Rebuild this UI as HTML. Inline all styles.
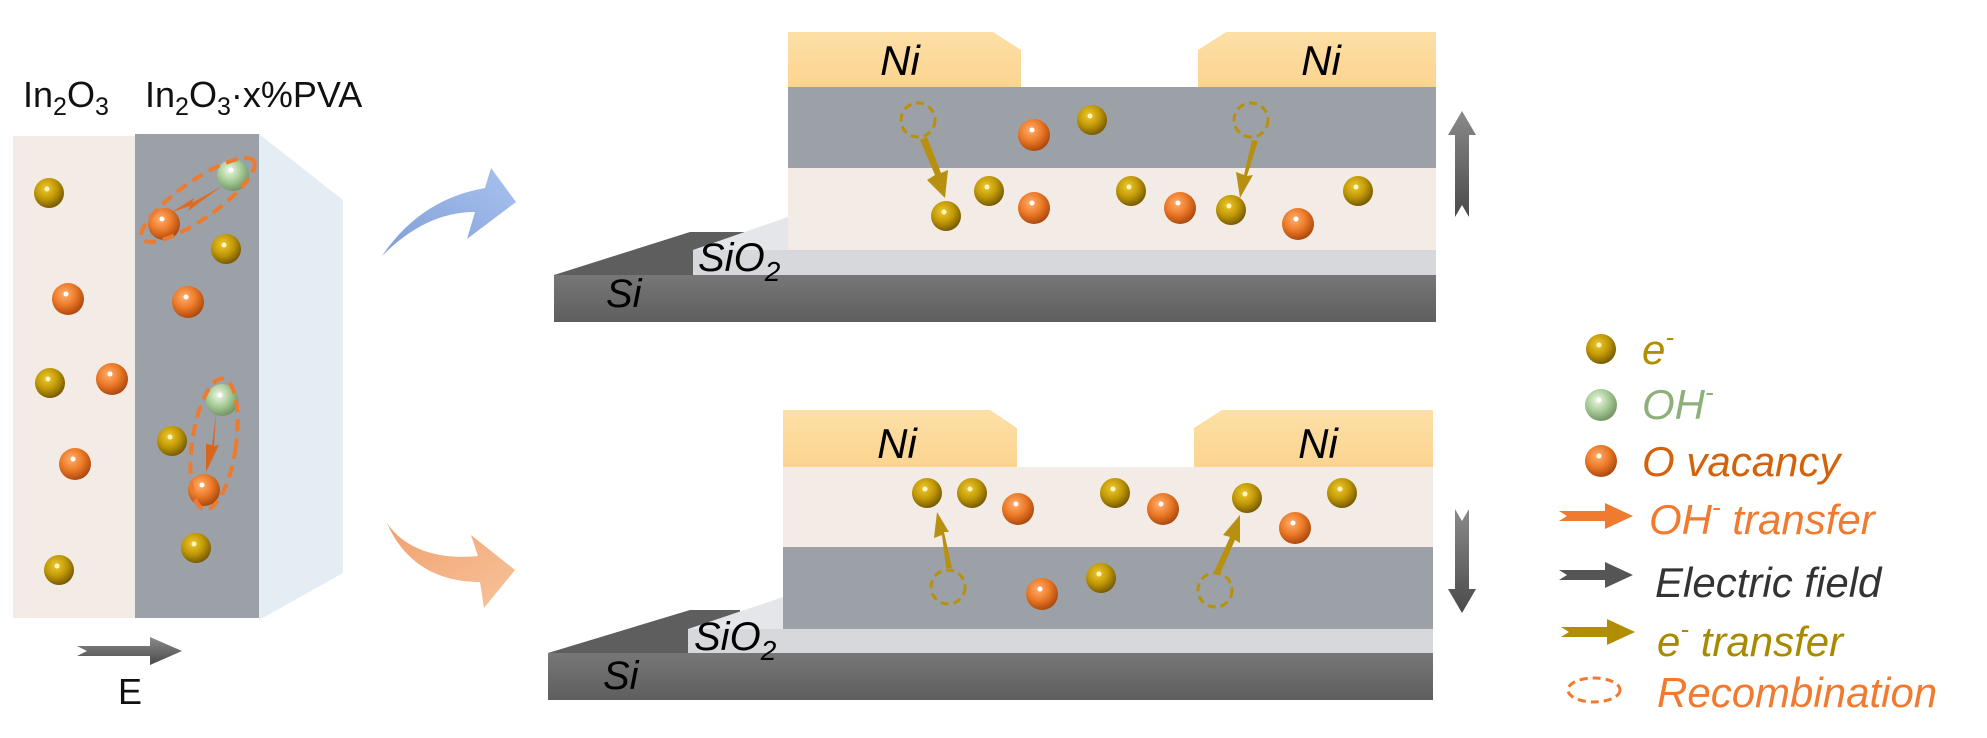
<!DOCTYPE html>
<html><head><meta charset="utf-8"><style>
html,body{margin:0;padding:0;background:#fff;}
svg{display:block;}
text{font-family:"Liberation Sans",Arial,sans-serif;}
</style></head><body>
<svg width="1987" height="738" viewBox="0 0 1987 738" xmlns="http://www.w3.org/2000/svg">
<defs>
<radialGradient id="ge" cx="0.4" cy="0.35" r="0.7"><stop offset="0" stop-color="#f0c832"/><stop offset="0.5" stop-color="#c29a06"/><stop offset="1" stop-color="#6e5200"/></radialGradient>
<radialGradient id="go" cx="0.4" cy="0.35" r="0.7"><stop offset="0" stop-color="#ffb070"/><stop offset="0.5" stop-color="#ec7a28"/><stop offset="1" stop-color="#a4420a"/></radialGradient>
<radialGradient id="gg" cx="0.4" cy="0.35" r="0.7"><stop offset="0" stop-color="#eef8e6"/><stop offset="0.5" stop-color="#a8cc98"/><stop offset="1" stop-color="#6c8e5e"/></radialGradient>
<linearGradient id="gni" x1="0" y1="0" x2="0" y2="1"><stop offset="0" stop-color="#fddfa6"/><stop offset="1" stop-color="#fbd490"/></linearGradient>
<linearGradient id="gsi" x1="0" y1="0" x2="0" y2="1"><stop offset="0" stop-color="#777"/><stop offset="1" stop-color="#5e5e5e"/></linearGradient>
<linearGradient id="gblue" x1="0" y1="1" x2="1" y2="0"><stop offset="0" stop-color="#7f9ed8"/><stop offset="1" stop-color="#a9c2ee"/></linearGradient>
<linearGradient id="gor" x1="0" y1="0" x2="1" y2="1"><stop offset="0" stop-color="#f0a070"/><stop offset="1" stop-color="#f7c49a"/></linearGradient>
<linearGradient id="garr" x1="0" y1="0" x2="0" y2="1"><stop offset="0" stop-color="#8a8a8a"/><stop offset="1" stop-color="#4a4a4a"/></linearGradient>
<g id="e"><circle r="15" fill="url(#ge)"/><circle cx="-2" cy="-4" r="2.5" fill="#fff8c0"/></g>
<g id="o"><circle r="16" fill="url(#go)"/><circle cx="-2" cy="-5" r="2.5" fill="#fff"/></g>
<g id="g"><circle r="16" fill="url(#gg)"/><circle cx="-2" cy="-5" r="2.5" fill="#fff"/></g>
</defs>

<!-- Left block -->
<text x="23" y="107" font-size="36" fill="#111">In<tspan font-size="25" dy="8">2</tspan><tspan dy="-8">O</tspan><tspan font-size="25" dy="8">3</tspan></text>
<text x="145" y="107" font-size="36" fill="#111">In<tspan font-size="25" dy="8">2</tspan><tspan dy="-8">O</tspan><tspan font-size="25" dy="8">3</tspan><tspan dy="-8">·x%PVA</tspan></text>
<rect x="13" y="136" width="122" height="482" fill="#f3ebe5"/>
<rect x="135" y="134" width="124" height="484" fill="#9ba1a6"/>
<polygon points="259,134 343,200 343,573 259,620" fill="#e4edf3"/>
<use href="#e" x="49" y="193"/><use href="#o" x="68" y="299"/><use href="#e" x="50" y="383"/><use href="#o" x="112" y="379"/><use href="#o" x="75" y="464"/><use href="#e" x="59" y="570"/>
<use href="#g" x="233" y="175"/><use href="#o" x="164" y="224"/><use href="#e" x="226" y="249"/><use href="#o" x="188" y="302"/><use href="#g" x="222" y="400"/><use href="#e" x="172" y="441"/><use href="#o" x="204" y="490"/><use href="#e" x="196" y="548"/>
<ellipse cx="198" cy="200" rx="68" ry="19" transform="rotate(-35 198 200)" fill="none" stroke="#ee7a30" stroke-width="4" stroke-dasharray="12 7"/>
<ellipse cx="214" cy="444" rx="22" ry="66" transform="rotate(8 214 444)" fill="none" stroke="#ee7a30" stroke-width="4" stroke-dasharray="12 7"/>
<polygon points="222,186 192,203 194,198 172,212 190,206 188,211" fill="#e06a20"/>
<polygon points="216,414 212,445 206,444 206,472 219,445 214,446" fill="#d8661c"/>
<polygon points="77,646 150,646 150,637 182,651 150,665 150,656 77,656 87,651" fill="url(#garr)"/>
<text x="130" y="704" font-size="36" fill="#111" text-anchor="middle">E</text>

<!-- Curved arrows -->
<path d="M382,256 C410,215 445,195 485,188 L491,168 L516,202 L467,239 L475,212 C440,212 410,228 382,256 Z" fill="url(#gblue)"/>
<path d="M387,523 C405,550 440,560 478,556 L471,535 L515,570 L484,608 L480,582 C440,582 405,565 387,523 Z" fill="url(#gor)"/>

<!-- Top device -->
<polygon points="554,275 690,232 745,232 745,275" fill="#5e5e5e"/>
<rect x="554" y="275" width="882" height="47" fill="url(#gsi)"/>
<polygon points="693,250 788,217 788,275 693,275" fill="#e4e6ea"/>
<rect x="693" y="250" width="743" height="25" fill="#d6d8dc"/>
<rect x="788" y="168" width="648" height="82" fill="#f3ece6"/>
<rect x="788" y="87" width="648" height="81" fill="#9ba1a6"/>
<polygon points="788,32 993,32 1021,50 1021,87 788,87" fill="url(#gni)"/>
<polygon points="1198,87 1198,50 1226,32 1436,32 1436,87" fill="url(#gni)"/>
<text x="900" y="75" font-size="42" font-style="italic" fill="#000" text-anchor="middle">Ni</text>
<text x="1321" y="75" font-size="42" font-style="italic" fill="#000" text-anchor="middle">Ni</text>
<text x="698" y="271" font-size="40" font-style="italic" fill="#000">SiO<tspan font-size="28" dy="10">2</tspan></text>
<text x="606" y="307" font-size="40" font-style="italic" fill="#000">Si</text>
<circle cx="918" cy="120" r="17" fill="none" stroke="#b8900a" stroke-width="3" stroke-dasharray="8 5"/>
<circle cx="1251" cy="120" r="17" fill="none" stroke="#b8900a" stroke-width="3" stroke-dasharray="8 5"/>
<use href="#o" x="1034" y="135"/><use href="#e" x="1092" y="120"/>
<use href="#e" x="946" y="216"/><use href="#e" x="989" y="191"/><use href="#o" x="1034" y="208"/><use href="#e" x="1131" y="191"/><use href="#o" x="1180" y="208"/><use href="#e" x="1231" y="210"/><use href="#o" x="1298" y="224"/><use href="#e" x="1358" y="191"/>
<polygon points="920,140 935,175 927,180 945,198 948,170 941,173 927,137" fill="#b89010"/>
<polygon points="1252,140 1244,175 1236,172 1240,198 1253,175 1247,176 1258,141" fill="#b89010"/>
<polygon points="1462,111 1476,135 1469,135 1469,217 1462,205 1455,217 1455,135 1448,135" fill="url(#garr)"/>

<!-- Bottom device -->
<polygon points="548,653 690,610 740,610 740,653" fill="#5e5e5e"/>
<rect x="548" y="653" width="885" height="47" fill="url(#gsi)"/>
<polygon points="688,629 783,597 783,653 688,653" fill="#e4e6ea"/>
<rect x="688" y="629" width="745" height="24" fill="#d6d8dc"/>
<rect x="783" y="547" width="650" height="82" fill="#9ba1a6"/>
<rect x="783" y="467" width="650" height="80" fill="#f3ece6"/>
<polygon points="783,410 990,410 1017,428 1017,467 783,467" fill="url(#gni)"/>
<polygon points="1194,467 1194,428 1222,410 1433,410 1433,467" fill="url(#gni)"/>
<text x="897" y="458" font-size="42" font-style="italic" fill="#000" text-anchor="middle">Ni</text>
<text x="1318" y="458" font-size="42" font-style="italic" fill="#000" text-anchor="middle">Ni</text>
<text x="694" y="650" font-size="40" font-style="italic" fill="#000">SiO<tspan font-size="28" dy="10">2</tspan></text>
<text x="603" y="689" font-size="40" font-style="italic" fill="#000">Si</text>
<use href="#e" x="927" y="493"/><use href="#e" x="972" y="493"/><use href="#o" x="1018" y="509"/><use href="#e" x="1115" y="493"/><use href="#o" x="1163" y="509"/><use href="#e" x="1247" y="498"/><use href="#o" x="1295" y="528"/><use href="#e" x="1342" y="493"/>
<circle cx="948" cy="587" r="17" fill="none" stroke="#b8900a" stroke-width="3" stroke-dasharray="8 5"/>
<circle cx="1215" cy="590" r="17" fill="none" stroke="#b8900a" stroke-width="3" stroke-dasharray="8 5"/>
<use href="#o" x="1042" y="594"/><use href="#e" x="1101" y="578"/>
<polygon points="946,568 942,535 934,538 937,512 949,532 944,532 952,568" fill="#b89010"/>
<polygon points="1214,572 1230,537 1223,535 1240,515 1240,543 1235,540 1220,574" fill="#b89010"/>
<polygon points="1455,509 1462,521 1469,509 1469,589 1476,589 1462,613 1448,589 1455,589" fill="url(#garr)"/>

<!-- Legend -->
<use href="#e" x="1601" y="349"/>
<text x="1642" y="364" font-size="42" font-style="italic" fill="#b08e00">e<tspan font-size="26" dy="-18">-</tspan></text>
<use href="#g" x="1601" y="405"/>
<text x="1642" y="419" font-size="42" font-style="italic" fill="#8db07a">OH<tspan font-size="26" dy="-18">-</tspan></text>
<use href="#o" x="1601" y="461"/>
<text x="1642" y="476" font-size="42" font-style="italic" fill="#d4620a">O vacancy</text>
<polygon points="1559,511 1605,511 1605,503 1633,516 1605,529 1605,521 1559,521 1567,516" fill="#f07b30"/>
<text x="1649" y="534" font-size="42" font-style="italic" fill="#f07b30">OH<tspan font-size="26" dy="-18">-</tspan><tspan dy="18"> transfer</tspan></text>
<polygon points="1559,570 1605,570 1605,562 1633,575 1605,588 1605,580 1559,580 1567,575" fill="#555"/>
<text x="1655" y="597" font-size="42" font-style="italic" fill="#333">Electric field</text>
<polygon points="1561,627 1607,627 1607,619 1635,632 1607,645 1607,637 1561,637 1569,632" fill="#b08e00"/>
<text x="1657" y="656" font-size="42" font-style="italic" fill="#a88a00">e<tspan font-size="26" dy="-18">-</tspan><tspan dy="18"> transfer</tspan></text>
<ellipse cx="1594" cy="690" rx="26" ry="12" fill="none" stroke="#f07b30" stroke-width="3" stroke-dasharray="8 5"/>
<text x="1657" y="707" font-size="42" font-style="italic" fill="#f07b30">Recombination</text>
</svg>
</body></html>
